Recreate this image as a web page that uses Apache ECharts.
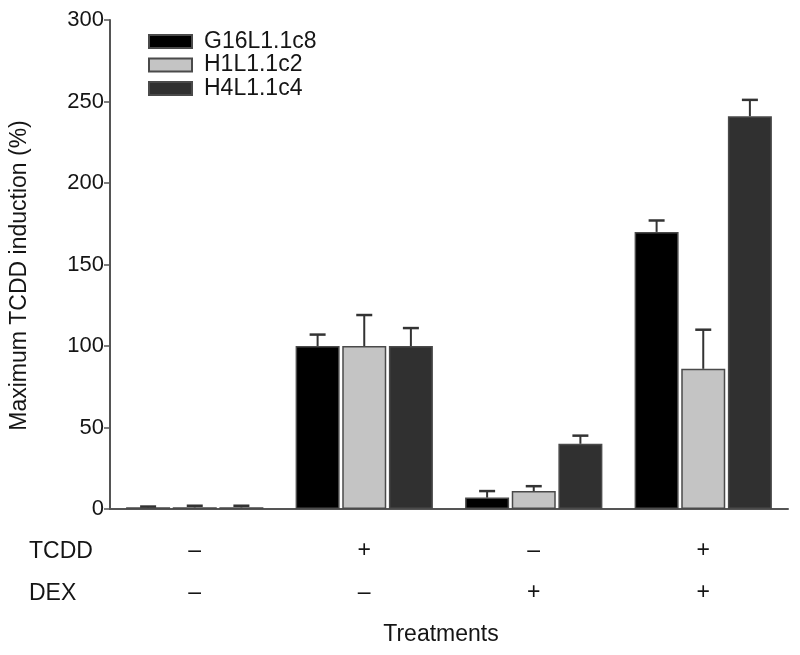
<!DOCTYPE html>
<html><head><meta charset="utf-8">
<script src="https://cdn.jsdelivr.net/npm/echarts@6/dist/echarts.min.js"></script>
<style>html,body{margin:0;padding:0;background:#fff}#c{width:800px;height:655px}</style>
</head><body><div id="c"></div>
<script>
var categories = ['g1','g2','g3','g4'];
var tcddRow = ['–','+','–','+'];
var dexRow = ['–','–','+','+'];
var seriesNames = ['G16L1.1c8','H1L1.1c2','H4L1.1c4'];
var valsG16 = [1, 100, 7, 170];
var errG16 = [0.5, 7, 4, 7];
var valsH1 = [1, 100, 11, 86];
var errH1 = [1, 19, 3, 24];
var valsH4 = [1, 100, 40, 241];
var errH4 = [1, 11, 5, 10];
var yTicks = [0, 50, 100, 150, 200, 250, 300];

var colors = ['#000000', '#c4c4c4', '#303030'];
var BW = 44, GAPR = 0.06;
var allVals = [valsG16, valsH1, valsH4];
var allErr = [errG16, errH1, errH4];
var font = '"Liberation Sans", Arial, sans-serif';
var txt = '#151515';

var series = [];
seriesNames.forEach(function(n, i){
  series.push({
    name: n, type: 'bar', data: allVals[i], barWidth: BW, barGap: (GAPR*100)+'%',
    itemStyle: {color: colors[i], borderColor: '#4a4a4a', borderWidth: 1.5},
    z: 2
  });
});
seriesNames.forEach(function(n, i){
  var data = allVals[i].map(function(v, k){ return [k, v, v + allErr[i][k]]; });
  series.push({
    type: 'custom', name: n + ' err', data: data, z: 3, silent: true,
    renderItem: function(params, api){
      var off = (i - 1) * (BW + BW*GAPR);
      var base = api.coord([api.value(0), api.value(1)]);
      var top = api.coord([api.value(0), api.value(2)]);
      var x = base[0] + off;
      var half = 8;
      return {type: 'group', children: [
        {type: 'line', shape: {x1: x, y1: base[1], x2: x, y2: top[1]}, style: {stroke: '#333', lineWidth: 2}},
        {type: 'line', shape: {x1: x - half, y1: top[1], x2: x + half, y2: top[1]}, style: {stroke: '#333', lineWidth: 2.5}}
      ]};
    }
  });
});

var chart = echarts.init(document.getElementById('c'));
chart.setOption({
  animation: false,
  backgroundColor: '#fff',
  textStyle: {fontFamily: font},
  grid: {left: 108, right: 12, top: 20, bottom: 146},
  legend: {
    data: seriesNames, orient: 'vertical', left: 143, top: 25,
    itemWidth: 43, itemHeight: 13, itemGap: 0.5, icon: 'rect',
    textStyle: {fontSize: 23, lineHeight: 23, color: txt, fontFamily: font, padding: [0, 0, 0, 7]}
  },
  xAxis: {
    type: 'category', data: categories,
    name: 'Treatments', nameLocation: 'middle', nameGap: 114,
    nameTextStyle: {fontSize: 23, color: txt, fontFamily: font, padding: [0, 16, 0, 0]},
    axisLine: {lineStyle: {color: '#555', width: 2}},
    axisTick: {alignWithLabel: true, length: 8, lineStyle: {color: '#555', width: 1.5}},
    axisLabel: {
      margin: 21, fontSize: 23, color: txt, lineHeight: 42,
      formatter: function(v, idx){ return tcddRow[idx] + '\n' + dexRow[idx]; }
    }
  },
  yAxis: {
    type: 'value', min: 0, max: 300, interval: 50,
    name: 'Maximum TCDD induction (%)', nameLocation: 'middle', nameGap: 79,
    nameTextStyle: {fontSize: 23, color: txt, fontFamily: font, padding: [0, 22, 0, 0]},
    axisLine: {show: true, lineStyle: {color: '#555', width: 2}},
    axisTick: {show: true, length: 6, lineStyle: {color: '#555', width: 1.5}},
    axisLabel: {fontSize: 22, color: txt, margin: 6,
      formatter: function(v){ return yTicks.indexOf(v) >= 0 ? String(v) : ''; }},
    splitLine: {show: false}
  },
  graphic: [
    {type: 'text', left: 29, top: 540, style: {text: 'TCDD', fontSize: 23, fill: txt, fontFamily: font}},
    {type: 'text', left: 29, top: 582, style: {text: 'DEX', fontSize: 23, fill: txt, fontFamily: font}}
  ],
  series: series
});
</script></body></html>
